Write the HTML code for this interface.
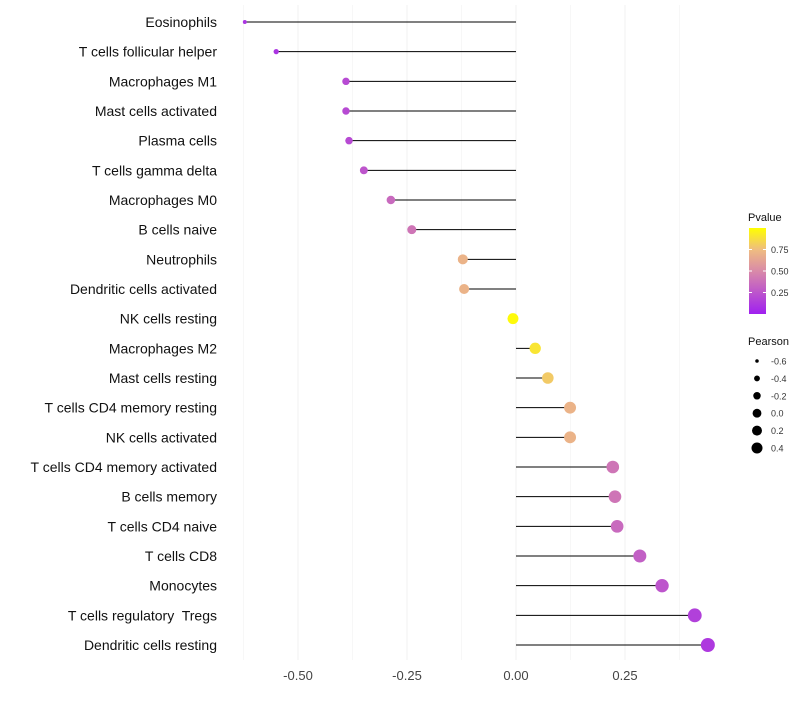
<!DOCTYPE html>
<html><head><meta charset="utf-8"><style>
body{margin:0;background:#fff;font-family:"Liberation Sans",sans-serif;}
text{white-space:pre;}
</style></head><body>
<svg id="c" width="800" height="700" xmlns="http://www.w3.org/2000/svg">
<defs><linearGradient id="pg" x1="0" y1="1" x2="0" y2="0">
<stop offset="0" stop-color="#a020f0"/><stop offset="0.5" stop-color="#d98aa8"/><stop offset="0.75" stop-color="#efbd80"/><stop offset="1" stop-color="#ffff00"/></linearGradient></defs>
</svg>
<script>
const categories=["Eosinophils","T cells follicular helper","Macrophages M1","Mast cells activated","Plasma cells","T cells gamma delta","Macrophages M0","B cells naive","Neutrophils","Dendritic cells activated","NK cells resting","Macrophages M2","Mast cells resting","T cells CD4 memory resting","NK cells activated","T cells CD4 memory activated","B cells memory","T cells CD4 naive","T cells CD8","Monocytes","T cells regulatory  Tregs","Dendritic cells resting"];
const pearson=[-0.622,-0.55,-0.39,-0.39,-0.383,-0.349,-0.287,-0.239,-0.122,-0.119,-0.007,0.044,0.073,0.124,0.124,0.222,0.227,0.232,0.284,0.335,0.41,0.44];
const pvalue=[0.1,0.1,0.2,0.2,0.2,0.25,0.35,0.4,0.7,0.7,0.98,0.9,0.8,0.7,0.7,0.4,0.4,0.35,0.3,0.25,0.15,0.12];
const xTicks=[-0.5,-0.25,0,0.25];
const xTickLabels=["-0.50","-0.25","0.00","0.25"];
const pTicks=[0.25,0.5,0.75];
const pTickLabels=["0.25","0.50","0.75"];
const sizeVals=[-0.6,-0.4,-0.2,0.0,0.2,0.4];
const sizeLabels=["-0.6","-0.4","-0.2","0.0","0.2","0.4"];

const svg=document.getElementById('c');const NS="http://www.w3.org/2000/svg";
function el(t,a,p){const e=document.createElementNS(NS,t);for(const k in a)e.setAttribute(k,a[k]);(p||svg).appendChild(e);return e;}
const x=v=>516+436*v;
const y=i=>22+i*(623/21);
const r=v=>Math.sqrt(Math.max(1,4+42.5*(v+0.62)));
function hex(h){return[1,3,5].map(i=>parseInt(h.substr(i,2),16));}
const stops=[[0,"#a020f0"],[0.5,"#d98aa8"],[0.75,"#efbd80"],[1,"#ffff00"]];
function col(p){for(let i=1;i<stops.length;i++){if(p<=stops[i][0]){const a=stops[i-1],b=stops[i];const t=(p-a[0])/(b[0]-a[0]);const c1=hex(a[1]),c2=hex(b[1]);return "rgb("+c1.map((c,j)=>Math.round(c+(c2[j]-c)*t)).join(",")+")";}}return stops[3][1];}

for(let v=-0.625;v<=0.45;v+=0.125){const major=Math.abs((v/0.25)-Math.round(v/0.25))<1e-6;
const g=el('line',{x1:x(v),x2:x(v),y1:5,y2:660,stroke:major?'#f0f0f0':'#f7f7f7','stroke-width':1});

}
xTicks.forEach((v,i)=>{const t=el('text',{x:x(v),y:680,'text-anchor':'middle','font-size':13,fill:'#444'});t.textContent=xTickLabels[i];

});
categories.forEach((c,i)=>{
const t=el('text',{x:217,y:y(i)+5,'text-anchor':'end','font-size':14,fill:'#111'});t.textContent=c;


const l=el('line',{x1:x(0),x2:x(pearson[i]),y1:y(i),y2:y(i),stroke:'#000','stroke-width':1});


const d=el('circle',{cx:x(pearson[i]),cy:y(i),r:r(pearson[i]),fill:col(pvalue[i])});


});
const lt=el('text',{x:748,y:221,'font-size':11,fill:'#111'});lt.textContent='Pvalue';


const by=p=>314-86*p;
const bar=el('rect',{x:749,y:by(1),width:17,height:86,fill:'url(#pg)'});


pTicks.forEach((p,i)=>{el('line',{x1:749,x2:752,y1:by(p),y2:by(p),stroke:'#fff'});el('line',{x1:763,x2:766,y1:by(p),y2:by(p),stroke:'#fff'});
const t=el('text',{x:771,y:by(p)+3.5,'font-size':9,fill:'#333'});t.textContent=pTickLabels[i];

});
const st=el('text',{x:748,y:345,'font-size':11,fill:'#111'});st.textContent='Pearson';


sizeVals.forEach((v,i)=>{const cy=361+i*17.4;
const d=el('circle',{cx:757,cy:cy,r:r(v)*0.8,fill:'#000'});


const t=el('text',{x:771,y:cy+3.5,'font-size':9,fill:'#333'});t.textContent=sizeLabels[i];

});
</script>
</body></html>
